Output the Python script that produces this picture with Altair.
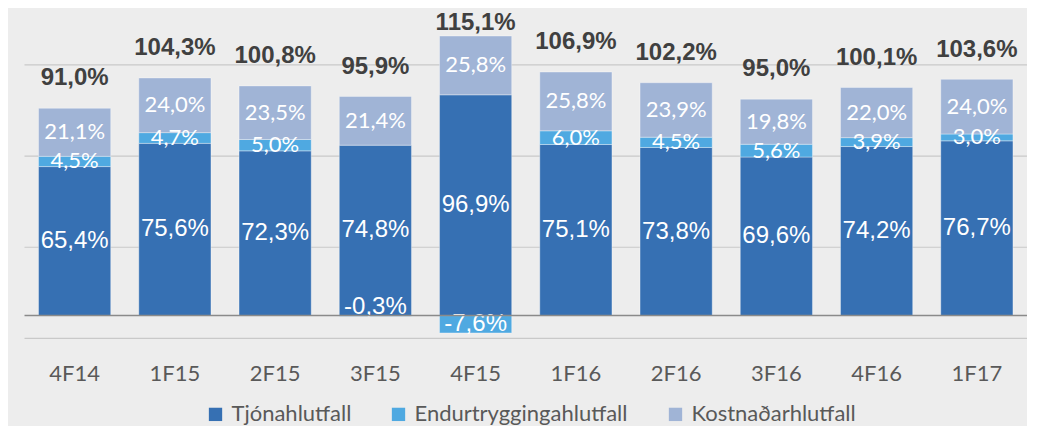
import altair as alt
import pandas as pd

periods = ["4F14", "1F15", "2F15", "3F15", "4F15", "1F16", "2F16", "3F16", "4F16", "1F17"]
tjon = [65.4, 75.6, 72.3, 74.8, 96.9, 75.1, 73.8, 69.6, 74.2, 76.7]
endur = [4.5, 4.7, 5.0, -0.3, -7.6, 6.0, 4.5, 5.6, 3.9, 3.0]
kostn = [21.1, 24.0, 23.5, 21.4, 25.8, 25.8, 23.9, 19.8, 22.0, 24.0]
totals = [91.0, 104.3, 100.8, 95.9, 115.1, 106.9, 102.2, 95.0, 100.1, 103.6]
series = ["Tjónahlutfall", "Endurtryggingahlutfall", "Kostnaðarhlutfall"]
colors = ["#3670B3", "#4FA9E1", "#A0B4D6"]
grid_values = [-10, 30, 70, 110]
zero_line = [0]

rows = []
for i, p in enumerate(periods):
    for k, vals in enumerate([tjon, endur, kostn]):
        rows.append({"period": p, "series": series[k], "order": k, "value": vals[i]})
df = pd.DataFrame(rows)
tot_df = pd.DataFrame({"period": periods, "total": totals})
grid_df = pd.DataFrame({"g": grid_values})
zero_df = pd.DataFrame({"z": zero_line})

LBL = "replace(replace(format(datum.value, '.1f'), '.', ','), '\u2212', '-') + '%'"

yscale = alt.Scale(domain=[-10, 130], nice=False, zero=False)
xscale = alt.Scale(domain=periods, paddingInner=0.28, paddingOuter=0.14)
xenc = alt.X("period:N", sort=periods, scale=xscale,
             axis=alt.Axis(title=None, labelFont="Lato", labelFontSize=22, labelColor="#595959",
                           ticks=False, tickSize=0, domain=False, grid=False, labelAngle=0,
                           labelPadding=35, labelBaseline="middle"))

grid = alt.Chart(grid_df).mark_rule(color="#C9C9C9", strokeWidth=1.2).encode(
    y=alt.Y("g:Q", scale=yscale, axis=None)
)

base = alt.Chart(df).transform_stack(
    stack="value", as_=["v0", "v1"], groupby=["period"], sort=[alt.SortField("order")]
).transform_calculate(
    mid="(datum.v0 + datum.v1) / 2",
    lo="min(datum.v0, datum.v1)",
    lbl=LBL
)

bars = base.mark_bar(stroke="#FFFFFF", strokeWidth=1, strokeOpacity=0.35).encode(
    x=xenc,
    y=alt.Y("v0:Q", scale=yscale, axis=None),
    y2="v1:Q",
    color=alt.Color("series:N", sort=series,
                    scale=alt.Scale(domain=series, range=colors),
                    legend=alt.Legend(orient="none", direction="horizontal", title=None,
                                      legendX=180, legendY=384,
                                      symbolType="square", symbolSize=177, symbolStrokeWidth=0,
                                      symbolOpacity=1, labelLimit=400,
                                      labelFont="Lato", labelFontSize=22, labelColor="#595959",
                                      labelOffset=5, columnPadding=36)),
)

lab_tjon = base.transform_filter(
    "datum.order == 0 && datum.value >= 0"
).mark_text(font="Liberation Sans", fontSize=24, color="white", baseline="middle").encode(
    x=alt.X("period:N", sort=periods, scale=xscale),
    y=alt.Y("mid:Q", scale=yscale, axis=None),
    text="lbl:N",
)

lab_other = base.transform_filter(
    "datum.order > 0 && datum.value >= 0"
).mark_text(font="Lato", fontSize=22, color="white", baseline="middle").encode(
    x=alt.X("period:N", sort=periods, scale=xscale),
    y=alt.Y("mid:Q", scale=yscale, axis=None),
    text="lbl:N",
)

lab_neg = base.transform_filter(
    "datum.value < 0"
).mark_text(font="Liberation Sans", fontSize=24, color="white", baseline="alphabetic", dy=-2).encode(
    x=alt.X("period:N", sort=periods, scale=xscale),
    y=alt.Y("lo:Q", scale=yscale, axis=None),
    text="lbl:N",
)

zero = alt.Chart(zero_df).mark_rule(color="#8A8A8A", strokeWidth=1.5).encode(
    y=alt.Y("z:Q", scale=yscale, axis=None)
)

tot = alt.Chart(tot_df).transform_calculate(
    lbl="replace(format(datum.total, '.1f'), '.', ',') + '%'"
).mark_text(font="Liberation Sans", fontSize=24, fontWeight="bold", color="#404040",
            baseline="alphabetic", dy=-23).encode(
    x=alt.X("period:N", sort=periods, scale=xscale),
    y=alt.Y("total:Q", scale=yscale, axis=None),
    text="lbl:N",
)

chart = alt.layer(grid, bars, lab_tjon, lab_other, lab_neg, zero, tot).properties(
    width=1002.5,
    height=319,
    background="#EDEDED",
    autosize=alt.AutoSizeParams(type="none"),
    padding={"left": 16.5, "top": 11.4, "right": 0, "bottom": 88},
).configure_view(stroke=None)

chart.save("out.html", embed_options={"renderer": "svg", "actions": False})
